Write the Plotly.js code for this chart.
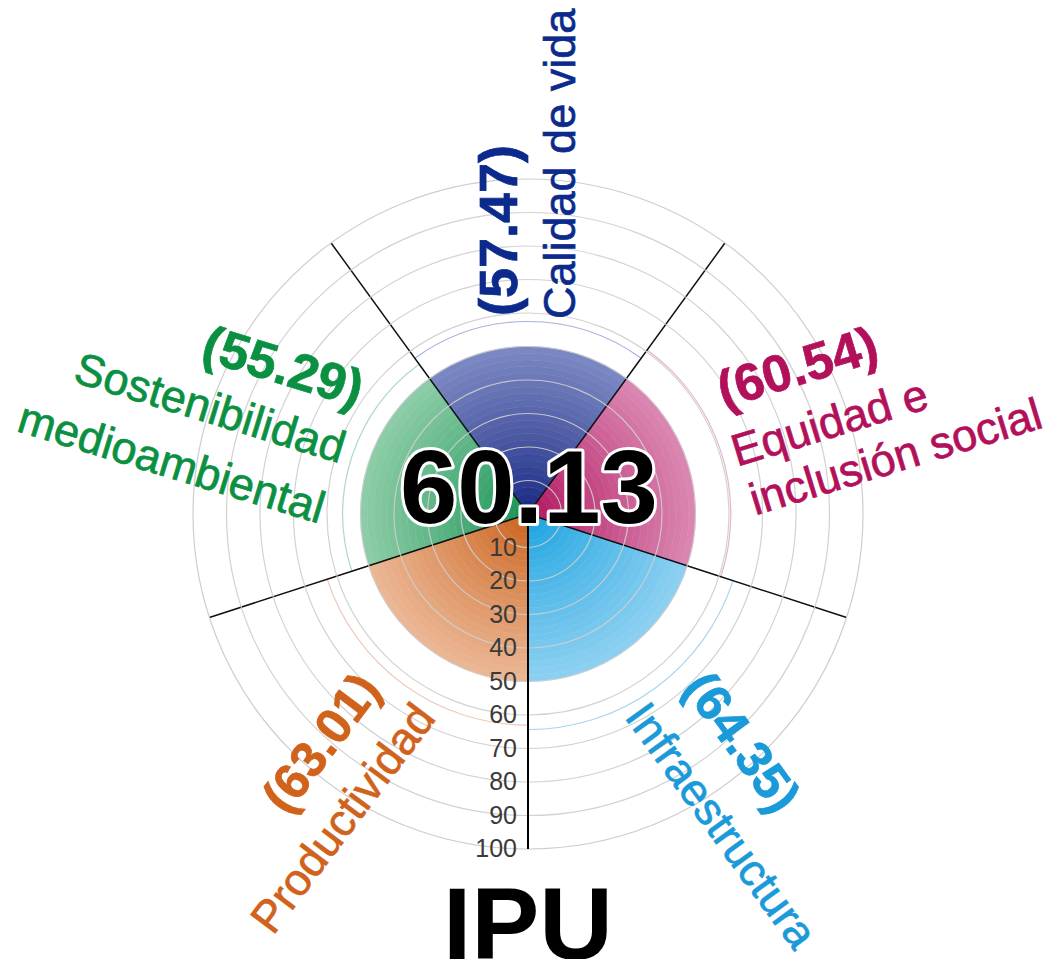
<!DOCTYPE html>
<html>
<head>
<meta charset="utf-8">
<script src="https://cdn.plot.ly/plotly-3.0.1.min.js"></script>
<style>
html, body { margin: 0; padding: 0; background: #ffffff; }
#chart { width: 1049px; height: 959px; }
g.annotation[data-index="0"] text.annotation-text {
  paint-order: stroke; stroke: #ffffff !important; stroke-width: 6px !important; stroke-linejoin: round;
}
</style>
</head>
<body>
<div id="chart"></div>
<script>
// ---------------- data ----------------
const categories = ['Calidad de vida', 'Equidad e inclusión social', 'Infraestructura', 'Productividad', 'Sostenibilidad medioambiental'];
const labelLines = [['Calidad de vida'], ['Equidad e', 'inclusión social'], ['Infraestructura'], ['Productividad'], ['Sostenibilidad', 'medioambiental']];
const values = [57.47, 60.54, 64.35, 63.01, 55.29];
const indexValue = 60.13;
const indexName = 'IPU';
const radialTickVals = [10, 20, 30, 40, 50, 60, 70, 80, 90, 100];
const radialTickText = ['10', '20', '30', '40', '50', '60', '70', '80', '90', '100'];

// ---------------- styles ----------------
const darkColors  = ['#13237f', '#b0105a', '#14a0e0', '#c85e16', '#119050'];
const lightColors = ['#7d89c3', '#db88b3', '#8ed1f1', '#ecb896', '#8ecda8'];
const textColors  = ['#0b2a8c', '#b2105a', '#1a9ad8', '#d0621c', '#0b9042'];
const outlineColors = ['rgba(60,80,180,0.45)', 'rgba(180,40,110,0.35)', 'rgba(40,150,220,0.4)', 'rgba(200,110,60,0.35)', 'rgba(20,150,80,0.35)'];
const DISK_R = 50;          // radius of the shaded colour disk (style)
const GRADIENT_STEPS = 25;  // number of rings used to emulate the radial gradient
const FONT = 'Liberation Sans, Arial, sans-serif';
const W = 1049, H = 959;

// label placement (pixel centres, rotation, font size) – layout only
const labelLayout = [
  { rot: -90, value: [498, 231, 54], names: [[559, 164, 45]] },
  { rot: -17, value: [797, 367, 52], names: [[829, 422, 45], [895, 456, 45]] },
  { rot: 54,  value: [742, 742, 50], names: [[722, 825, 45]] },
  { rot: -53, value: [321, 743, 50], names: [[342, 818, 45]] },
  { rot: 17,  value: [283, 366, 52], names: [[210, 408, 45], [172, 462, 45]] }
];

// ---------------- geometry from category order ----------------
const n = categories.length;
const sectorWidth = 360 / n;
const theta = categories.map((_, i) => 90 - i * sectorWidth);
const boundaries = theta.map(t => ((t + sectorWidth / 2) % 360 + 360) % 360);

function hex2rgb(h) { return [1, 3, 5].map(k => parseInt(h.substr(k, 2), 16)); }
function mix(a, b, t) {
  const A = hex2rgb(a), B = hex2rgb(b);
  return 'rgb(' + A.map((v, k) => Math.round(v + (B[k] - v) * t)).join(',') + ')';
}

const traces = [];
const step = DISK_R / GRADIENT_STEPS;
for (let s = 0; s < GRADIENT_STEPS; s++) {
  const t = Math.pow((s + 0.5) / GRADIENT_STEPS, 0.85);
  const cols = darkColors.map((d, i) => mix(d, lightColors[i], t));
  traces.push({
    type: 'barpolar', subplot: 'polar',
    theta: theta, r: categories.map(() => step), base: categories.map(() => s * step),
    width: categories.map(() => sectorWidth),
    marker: { color: cols, line: { color: cols, width: 0.6 } },
    hoverinfo: 'skip', showlegend: false
  });
}
// the data bars: outline at each pillar value
traces.push({
  type: 'barpolar', subplot: 'polar',
  theta: theta, r: values, width: categories.map(() => sectorWidth),
  marker: { color: 'rgba(0,0,0,0)', line: { color: outlineColors, width: 1.2 } },
  text: categories, hoverinfo: 'text+r', showlegend: false
});
// empty trace to create the overlay subplot carrying grid + axis
traces.push({ type: 'scatterpolar', subplot: 'polar2', r: [], theta: [], mode: 'markers', showlegend: false });

const domain = { x: [193 / W, 863 / W], y: [(H - 849) / H, (H - 179) / H] };

const annotations = [];
annotations.push({
  xref: 'paper', yref: 'paper', x: 529 / W, y: 1 - 487 / H, xanchor: 'center', yanchor: 'middle',
  text: '<b>' + indexValue.toFixed(2) + '</b>', showarrow: false,
  font: { family: FONT, size: 103, color: '#000000' }
});
annotations.push({
  xref: 'paper', yref: 'paper', x: 528 / W, y: 1 - 924 / H, xanchor: 'center', yanchor: 'middle',
  text: '<b>' + indexName + '</b>', showarrow: false,
  font: { family: FONT, size: 102, color: '#000000' }
});
labelLayout.forEach((L, i) => {
  annotations.push({
    xref: 'paper', yref: 'paper', x: L.value[0] / W, y: 1 - L.value[1] / H,
    xanchor: 'center', yanchor: 'middle', textangle: L.rot, showarrow: false,
    text: '<b>(' + values[i].toFixed(2) + ')</b>',
    font: { family: FONT, size: L.value[2], color: textColors[i] }
  });
  L.names.forEach((p, k) => {
    annotations.push({
      xref: 'paper', yref: 'paper', x: p[0] / W, y: 1 - p[1] / H,
      xanchor: 'center', yanchor: 'middle', textangle: L.rot, showarrow: false,
      text: labelLines[i][k],
      font: { family: FONT, size: p[2], color: textColors[i] }
    });
  });
});

const layout = {
  width: W, height: H,
  margin: { l: 0, r: 0, t: 0, b: 0 },
  paper_bgcolor: '#ffffff',
  showlegend: false,
  hovermode: false,
  polar: {
    domain: domain, bgcolor: 'rgba(0,0,0,0)', barmode: 'overlay',
    radialaxis: { range: [0, 100], visible: false, showgrid: false },
    angularaxis: { type: 'linear', direction: 'counterclockwise', rotation: 0, visible: false, showgrid: false }
  },
  polar2: {
    domain: domain, bgcolor: 'rgba(0,0,0,0)',
    radialaxis: {
      range: [0, 100], angle: 270, side: 'clockwise', tickangle: -90,
      tickvals: radialTickVals, ticktext: radialTickText, ticks: '',
      tickfont: { family: FONT, size: 25, color: '#3a3a3a' },
      showgrid: true, gridcolor: 'rgba(205,205,205,0.9)', gridwidth: 1.2,
      showline: true, linecolor: '#000000', linewidth: 2
    },
    angularaxis: {
      type: 'linear', direction: 'counterclockwise', rotation: 0,
      tickvals: boundaries, showticklabels: false, ticks: '',
      showgrid: true, gridcolor: '#111111', gridwidth: 1.5,
      showline: true, linecolor: 'rgba(200,200,200,0.9)', linewidth: 1.2
    }
  },
  annotations: annotations
};

Plotly.newPlot('chart', traces, layout, { displayModeBar: false, staticPlot: true }).then(() => {
  // slightly heavier ink for the category labels, like the reference
  document.querySelectorAll('g.annotation').forEach(g => {
    const idx = +g.getAttribute('data-index');
    if (idx < 2) return;
    const t = g.querySelector('text.annotation-text');
    if (t) { t.style.stroke = t.style.fill; t.style.strokeWidth = '0.7px'; }
  });
});
</script>
</body>
</html>
